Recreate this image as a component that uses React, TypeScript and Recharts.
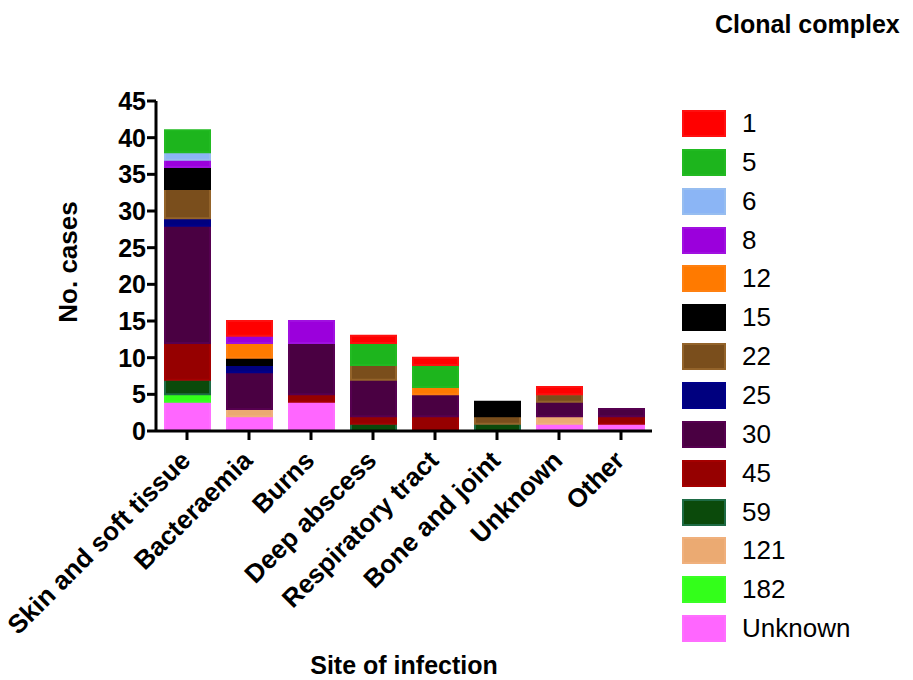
import React from 'react';
import { BarChart, Bar, XAxis, YAxis } from 'recharts';

const sites = [
  'Skin and soft tissue',
  'Bacteraemia',
  'Burns',
  'Deep abscess',
  'Respiratory tract',
  'Bone and joint',
  'Unknown',
  'Other',
];

// clonal complexes, legend order (top to bottom)
const complexes = ['1', '5', '6', '8', '12', '15', '22', '25', '30', '45', '59', '121', '182', 'Unknown'];

// cases per site, one list per clonal complex
const cc1 = [0, 2, 0, 1, 1, 0, 1, 0];
const cc5 = [3, 0, 0, 3, 3, 0, 0, 0];
const cc6 = [1, 0, 0, 0, 0, 0, 0, 0];
const cc8 = [1, 1, 3, 0, 0, 0, 0, 0];
const cc12 = [0, 2, 0, 0, 1, 0, 0, 0];
const cc15 = [3, 1, 0, 0, 0, 2, 0, 0];
const cc22 = [4, 0, 0, 2, 0, 1, 1, 0];
const cc25 = [1, 1, 0, 0, 0, 0, 0, 0];
const cc30 = [16, 5, 7, 5, 3, 0, 2, 1];
const cc45 = [5, 0, 1, 1, 2, 0, 0, 1];
const cc59 = [2, 0, 0, 1, 0, 1, 0, 0];
const cc121 = [0, 1, 0, 0, 0, 0, 1, 0];
const cc182 = [1, 0, 0, 0, 0, 0, 0, 0];
const ccUnknown = [4, 2, 4, 0, 0, 0, 1, 1];

const seriesValues = [cc1, cc5, cc6, cc8, cc12, cc15, cc22, cc25, cc30, cc45, cc59, cc121, cc182, ccUnknown];

const yTicks = [0, 5, 10, 15, 20, 25, 30, 35, 40, 45];

const FILLS = ['#FF0000', '#1DB51D', '#8BB5F5', '#9B00DC', '#FF7A00', '#000000', '#7A4E1C', '#00007F', '#4A0042', '#960000', '#0B4A0B', '#EBAA72', '#33FF1A', '#FF66FF'];
const STROKES = ['#FF1010', '#22BA22', '#96BDF0', '#A010E0', '#FF8010', '#000000', '#93632A', '#00008A', '#560050', '#A50000', '#1E6B45', '#F0B07C', '#3AFF25', '#FF6EFF'];

const data = sites.map((site, i) => {
  const row: Record<string, string | number> = { site };
  complexes.forEach((cc, j) => {
    row['cc' + cc] = seriesValues[j][i];
  });
  return row;
});

const FONT = '"Liberation Sans", Arial, sans-serif';

function SiteTick(props: any) {
  const { x, y, payload } = props;
  return (
    <g transform={`translate(${x + 5},${y + 20})`}>
      <text transform="rotate(-45)" textAnchor="end" fontFamily={FONT} fontWeight="bold" fontSize={26} fill="#000">
        {payload.value}
      </text>
    </g>
  );
}

export default function App() {
  // stacking goes bottom-up, so draw series in reverse legend order
  const stackOrder = complexes.map((cc, j) => j).reverse();

  return (
    <div style={{ position: 'absolute', left: 0, top: 0, width: 913, height: 680, background: '#fff', fontFamily: FONT }}>
      <BarChart
        width={670}
        height={680}
        data={data}
        margin={{ top: 101, right: 18, left: 96, bottom: 49 }}
        barSize={45}
      >
        <XAxis
          dataKey="site"
          interval={0}
          height={200}
          axisLine={{ stroke: '#000', strokeWidth: 3 }}
          tickLine={{ stroke: '#000', strokeWidth: 3 }}
          tickSize={9}
          tick={<SiteTick />}
          label={{
            content: () => (
              <text x={404} y={674} textAnchor="middle" fontFamily={FONT} fontWeight="bold" fontSize={25} fill="#000">
                Site of infection
              </text>
            ),
          }}
        />
        <YAxis
          width={60}
          domain={[0, 45]}
          ticks={yTicks}
          interval={0}
          axisLine={{ stroke: '#000', strokeWidth: 3 }}
          tickLine={{ stroke: '#000', strokeWidth: 3 }}
          tickSize={9}
          tickMargin={1}
          tick={{ fontFamily: FONT, fontWeight: 'bold', fontSize: 25, fill: '#000' }}
          label={{
            content: () => (
              <text
                x={68}
                y={262}
                transform="rotate(-90 68 262)"
                textAnchor="middle"
                dominantBaseline="central"
                fontFamily={FONT}
                fontWeight="bold"
                fontSize={26}
                fill="#000"
              >
                No. cases
              </text>
            ),
          }}
        />
        {stackOrder.map((j) => (
          <Bar
            key={complexes[j]}
            dataKey={'cc' + complexes[j]}
            stackId="a"
            fill={FILLS[j]}
            stroke={STROKES[j]}
            strokeWidth={2}
            isAnimationActive={false}
          />
        ))}
      </BarChart>

      <div style={{ position: 'absolute', left: 715, top: 10, fontWeight: 'bold', fontSize: 25, color: '#000', whiteSpace: 'nowrap' }}>
        Clonal complex
      </div>
      {complexes.map((cc, j) => (
        <div
          key={cc}
          style={{ position: 'absolute', left: 682, top: 110 + j * 38.85, height: 27, display: 'flex', alignItems: 'center' }}
        >
          <div
            style={{
              width: 40,
              height: 23,
              background: FILLS[j],
              border: `2px solid ${STROKES[j]}`,
            }}
          />
          <span style={{ marginLeft: 16, fontSize: 26, color: '#000', lineHeight: '27px' }}>{cc}</span>
        </div>
      ))}
    </div>
  );
}
